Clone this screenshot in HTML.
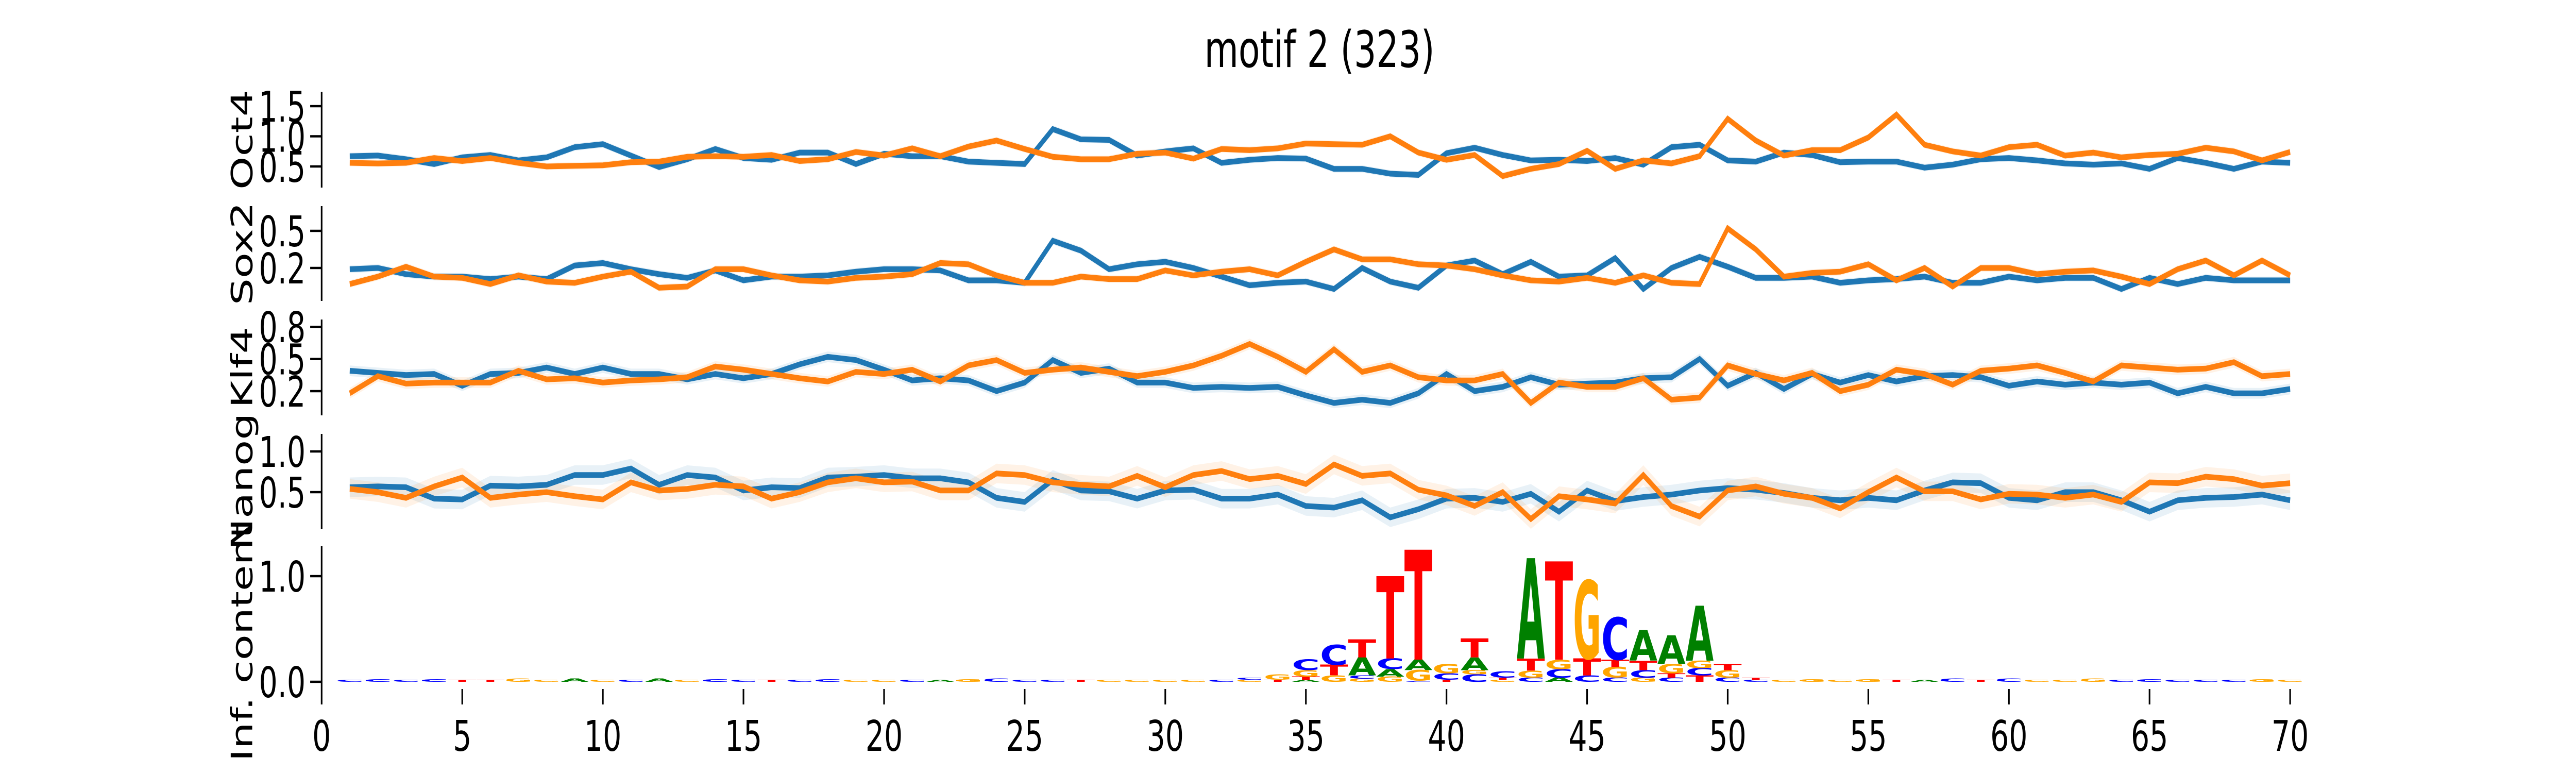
<!DOCTYPE html>
<html><head><meta charset="utf-8">
<style>
html,body{margin:0;padding:0;background:#fff;overflow:hidden;width:100%;height:100%;}
svg{display:block;width:100vw;height:100vh;}
text{font-family:"DejaVu Sans","Liberation Sans",sans-serif;}
</style></head>
<body>
<svg id="chart" viewBox="0 0 7200 1500" preserveAspectRatio="none" xmlns="http://www.w3.org/2000/svg">
<rect x="0" y="0" width="7200" height="1500" fill="#fff"/>
<text x="3688" y="130" font-size="98" text-anchor="middle">motif 2 (323)</text>
</svg>
<script>
const positions = [];
for (let i = 1; i <= 70; i++) positions.push(i);
const xTickValues = [0,5,10,15,20,25,30,35,40,45,50,55,60,65,70];

const oct4Blue = [0.67,0.68,0.62,0.54,0.65,0.69,0.60,0.65,0.82,0.87,0.68,0.49,0.62,0.79,0.64,0.61,0.73,0.73,0.54,0.71,
0.67,0.67,0.58,0.56,0.54,1.12,0.95,0.94,0.68,0.75,0.80,0.56,0.61,0.64,0.63,0.46,0.46,0.38,0.36,0.72,
0.81,0.69,0.60,0.61,0.59,0.64,0.53,0.82,0.86,0.60,0.58,0.73,0.69,0.57,0.58,0.58,0.48,0.53,0.62,
0.64,0.60,0.55,0.53,0.55,0.46,0.64,0.56,0.46,0.58,0.56];
const oct4Orange = [0.56,0.55,0.56,0.64,0.59,0.64,0.56,0.50,0.51,0.52,0.57,0.58,0.66,0.67,0.66,0.69,0.59,0.62,0.74,0.68,
0.80,0.67,0.83,0.93,0.79,0.66,0.62,0.62,0.71,0.73,0.63,0.79,0.77,0.80,0.88,0.87,0.86,1.00,0.73,0.61,
0.69,0.34,0.46,0.54,0.76,0.46,0.60,0.55,0.67,1.29,0.93,0.68,0.77,0.77,0.98,1.36,0.86,0.75,0.68,
0.82,0.86,0.68,0.73,0.65,0.69,0.71,0.81,0.75,0.60,0.74];
const sox2Blue = [0.19,0.20,0.15,0.13,0.13,0.11,0.13,0.11,0.22,0.24,0.19,0.15,0.12,0.18,0.10,0.13,0.13,0.14,0.17,0.19,
0.19,0.18,0.10,0.10,0.08,0.42,0.34,0.19,0.23,0.25,0.20,0.13,0.06,0.08,0.09,0.03,0.20,0.09,0.04,0.22,
0.26,0.15,0.25,0.13,0.14,0.28,0.03,0.20,0.29,0.21,0.12,0.12,0.13,0.08,0.10,0.11,0.13,0.08,0.08,
0.13,0.10,0.12,0.12,0.03,0.12,0.07,0.12,0.10,0.10,0.10];
const sox2Orange = [0.07,0.13,0.21,0.13,0.12,0.07,0.14,0.09,0.08,0.13,0.17,0.04,0.05,0.19,0.19,0.14,0.10,0.09,0.12,0.13,
0.15,0.24,0.23,0.14,0.08,0.08,0.13,0.11,0.11,0.18,0.14,0.17,0.19,0.14,0.25,0.35,0.27,0.27,0.23,0.22,
0.19,0.14,0.10,0.09,0.12,0.08,0.14,0.08,0.07,0.52,0.35,0.13,0.16,0.17,0.23,0.10,0.20,0.05,0.20,
0.20,0.15,0.17,0.18,0.13,0.07,0.19,0.26,0.14,0.26,0.14];
const klf4Blue = [0.39,0.37,0.35,0.36,0.25,0.36,0.37,0.42,0.36,0.42,0.36,0.36,0.31,0.36,0.32,0.36,0.45,0.52,0.49,0.40,
0.30,0.32,0.30,0.20,0.28,0.49,0.37,0.41,0.28,0.28,0.23,0.24,0.23,0.24,0.16,0.09,0.12,0.09,0.18,0.36,
0.20,0.24,0.33,0.26,0.27,0.28,0.32,0.33,0.50,0.25,0.37,0.22,0.36,0.28,0.35,0.29,0.34,0.35,0.33,
0.25,0.29,0.26,0.28,0.26,0.28,0.18,0.24,0.18,0.18,0.22];
const klf4Orange = [0.18,0.34,0.27,0.28,0.28,0.28,0.39,0.31,0.32,0.28,0.30,0.31,0.33,0.43,0.40,0.36,0.32,0.29,0.38,0.36,
0.40,0.29,0.44,0.49,0.37,0.40,0.42,0.38,0.34,0.38,0.44,0.53,0.64,0.52,0.38,0.59,0.38,0.44,0.33,0.30,
0.30,0.36,0.09,0.28,0.24,0.24,0.32,0.12,0.14,0.44,0.36,0.30,0.37,0.20,0.26,0.40,0.36,0.26,0.39,
0.41,0.44,0.37,0.29,0.44,0.42,0.40,0.41,0.47,0.34,0.36];
const nanogBlue = [0.56,0.57,0.56,0.42,0.41,0.58,0.57,0.59,0.71,0.71,0.79,0.59,0.71,0.68,0.52,0.56,0.55,0.68,0.69,0.71,
0.67,0.67,0.62,0.43,0.38,0.65,0.52,0.51,0.42,0.52,0.53,0.42,0.42,0.47,0.33,0.31,0.40,0.19,0.29,0.42,
0.43,0.38,0.48,0.26,0.52,0.39,0.44,0.47,0.52,0.55,0.53,0.49,0.43,0.40,0.43,0.40,0.52,0.62,0.61,
0.43,0.40,0.50,0.50,0.40,0.26,0.40,0.43,0.44,0.47,0.40];
const nanogOrange = [0.54,0.50,0.43,0.57,0.68,0.43,0.47,0.50,0.45,0.41,0.62,0.52,0.54,0.59,0.57,0.42,0.50,0.62,0.67,0.62,
0.63,0.52,0.52,0.73,0.71,0.62,0.59,0.57,0.70,0.56,0.71,0.76,0.66,0.70,0.60,0.84,0.70,0.73,0.53,0.46,
0.33,0.50,0.17,0.45,0.41,0.36,0.71,0.33,0.20,0.52,0.57,0.48,0.43,0.30,0.50,0.68,0.51,0.51,0.41,
0.48,0.47,0.43,0.47,0.38,0.62,0.61,0.69,0.66,0.58,0.61];
const bandBlue = [0.06,0.03,0.05,0.12];
const bandOrange = [0.06,0.03,0.05,0.12];

const logoStacks = {
33:[["G",0.02],["C",0.02]],
34:[["T",0.02],["G",0.05]],
35:[["A",0.02],["T",0.03],["G",0.06],["C",0.10]],
36:[["G",0.06],["T",0.10],["C",0.19]],
37:[["G",0.03],["C",0.03],["A",0.17],["T",0.17]],
38:[["G",0.05],["A",0.07],["C",0.10],["T",0.78]],
39:[["C",0.01],["G",0.10],["A",0.10],["T",1.04]],
40:[["T",0.02],["C",0.06],["G",0.09]],
41:[["C",0.07],["G",0.04],["A",0.12],["T",0.18]],
42:[["G",0.02],["T",0.02],["C",0.06]],
43:[["C",0.04],["G",0.065],["T",0.115],["A",0.95]],
44:[["A",0.04],["C",0.08],["G",0.09],["T",0.93]],
45:[["C",0.06],["T",0.16],["G",0.74]],
46:[["C",0.04],["G",0.10],["T",0.07],["C",0.40]],
47:[["G",0.04],["C",0.07],["T",0.09],["A",0.29]],
48:[["C",0.04],["T",0.04],["G",0.09],["A",0.27]],
49:[["T",0.06],["C",0.07],["G",0.07],["A",0.52]],
50:[["C",0.04],["G",0.07],["T",0.06]],
51:[["C",0.02],["T",0.02]]
};
const bgLetters = "CCCCTTGGAGCAGCCTCCGGCAGCCCTGGGGCGG";
const bgLettersTail = "GGTACTCGGGCCCCCGGCCTCC";
const bgHeights = [0.02,0.025,0.02,0.025,0.02,0.02,0.03,0.02,0.03,0.02,0.02,0.03,0.02,0.025,0.02,0.02,0.02,0.025,0.02,0.02,0.02,0.02,0.025,0.03,0.02,0.02,0.02,0.02,0.02,0.02,0.02,0.02];

const colors = {A:"#008000",C:"#0000ff",G:"#ffa500",T:"#ff0000"};
const NS = "http://www.w3.org/2000/svg";
const svg = document.getElementById("chart");
const X0 = 899, PXU = 78.6;
function xs(v){ return X0 + v*PXU; }

const panels = [
 {name:"oct4", label:"Oct4", top:178, bot:364, ref:0.5, refY:323, ppu:117, ticks:[0.5,1.0,1.5], labels:["0.5","1.0","1.5"], blue:oct4Blue, orange:oct4Orange},
 {name:"sox2", label:"Sox2", top:400, bot:584, ref:0.2, refY:520, ppu:240, ticks:[0.2,0.5], labels:["0.2","0.5"], blue:sox2Blue, orange:sox2Orange},
 {name:"klf4", label:"Klf4", top:620, bot:806, ref:0.2, refY:759, ppu:208, ticks:[0.2,0.5,0.8], labels:["0.2","0.5","0.8"], blue:klf4Blue, orange:klf4Orange},
 {name:"nanog", label:"Nanog", top:842, bot:1027, ref:0.5, refY:955, ppu:158, ticks:[0.5,1.0], labels:["0.5","1.0"], blue:nanogBlue, orange:nanogOrange}
];

function mk(tag, attrs, parent){
  const el = document.createElementNS(NS, tag);
  for (const k in attrs) el.setAttribute(k, attrs[k]);
  (parent||svg).appendChild(el);
  return el;
}

function drawAxisLeft(g, top, bot, ticks, labels, ys, lbl, pname, labelCy){
  const sp = mk("line",{x1:X0,y1:top,x2:X0,y2:bot,stroke:"#000","stroke-width":4.5},g);
  
  
  ticks.forEach((t,i)=>{
    const y = ys(t);
    const tk = mk("line",{x1:X0-32,y1:y,x2:X0,y2:y,stroke:"#000","stroke-width":4.5},g);
    
    
    const tx = mk("text",{x:X0-45,y:y+30,"font-size":82,"text-anchor":"end"},g);
    tx.textContent = labels[i];
    
    
  });
  const cy = labelCy !== undefined ? labelCy : (top+bot)/2;
  const yl = mk("text",{x:0,y:0,"font-size":82,"text-anchor":"middle",transform:`translate(705,${cy}) rotate(-90)`},g);
  yl.textContent = lbl;
  
  
}

panels.forEach((p,pi)=>{
  const g = mk("g",{});
  
  
  const ys = v => p.refY - (v - p.ref)*p.ppu;
  drawAxisLeft(g, p.top, p.bot, p.ticks, p.labels, ys, p.label, p.name);
  [["blue",p.blue,"#1f77b4",bandBlue[pi]],["orange",p.orange,"#ff7f0e",bandOrange[pi]]].forEach(([nm,arr,col,bw])=>{
    let up = "", dn = "";
    arr.forEach((v,i)=>{ up += (i?" L":"M")+xs(positions[i]).toFixed(1)+","+ys(v+bw).toFixed(1); });
    for (let i=arr.length-1;i>=0;i--) dn += " L"+xs(positions[i]).toFixed(1)+","+ys(arr[i]-bw).toFixed(1);
    const band = mk("path",{d:up+dn+" Z",fill:col,"fill-opacity":0.1,stroke:"none"},g);
    
    
  });
  [["blue",p.blue,"#1f77b4"],["orange",p.orange,"#ff7f0e"]].forEach(([nm,arr,col])=>{
    const pts = arr.map((v,i)=>xs(positions[i]).toFixed(1)+","+ys(v).toFixed(1)).join(" ");
    const ln = mk("polyline",{points:pts,fill:"none",stroke:col,"stroke-width":11,"stroke-linejoin":"miter"},g);
    
    
  });
});

// logo panel
const lg = mk("g",{});


const logoY = v => 1323 - v*205;
drawAxisLeft(lg, 1060, 1337, [0,1], ["0.0","1.0"], logoY, "Inf. content", "logo", 1245);
xTickValues.forEach(t=>{
  const tk = mk("line",{x1:xs(t),y1:1337,x2:xs(t),y2:1367,stroke:"#000","stroke-width":4.5},lg);
  
  
  const tx = mk("text",{x:xs(t),y:1457,"font-size":82,"text-anchor":"middle"},lg);
  tx.textContent = String(t);
  
  
});
const allBg = bgLetters + bgLettersTail;
let bgi = 0;
positions.forEach(pos=>{
  let stack = logoStacks[pos];
  if (!stack){
    stack = [[allBg[bgi % allBg.length], bgHeights[bgi % bgHeights.length]]];
    bgi++;
  }
  let base = 0;
  stack.forEach(([L,h])=>{
    const yb = logoY(base), yt = logoY(base+h);
    const hp = yb - yt;
    const sy = hp / 72.9;
    const t = mk("text",{x:0,y:0,"font-size":100,"font-weight":"bold",fill:colors[L],
      textLength:PXU, lengthAdjust:"spacingAndGlyphs",
      transform:`translate(${(xs(pos)-PXU/2).toFixed(1)},${yb.toFixed(1)}) scale(1,${sy.toFixed(4)})`},lg);
    t.textContent = L;
    
    
    base += h;
  });
});
</script>
</body></html>
